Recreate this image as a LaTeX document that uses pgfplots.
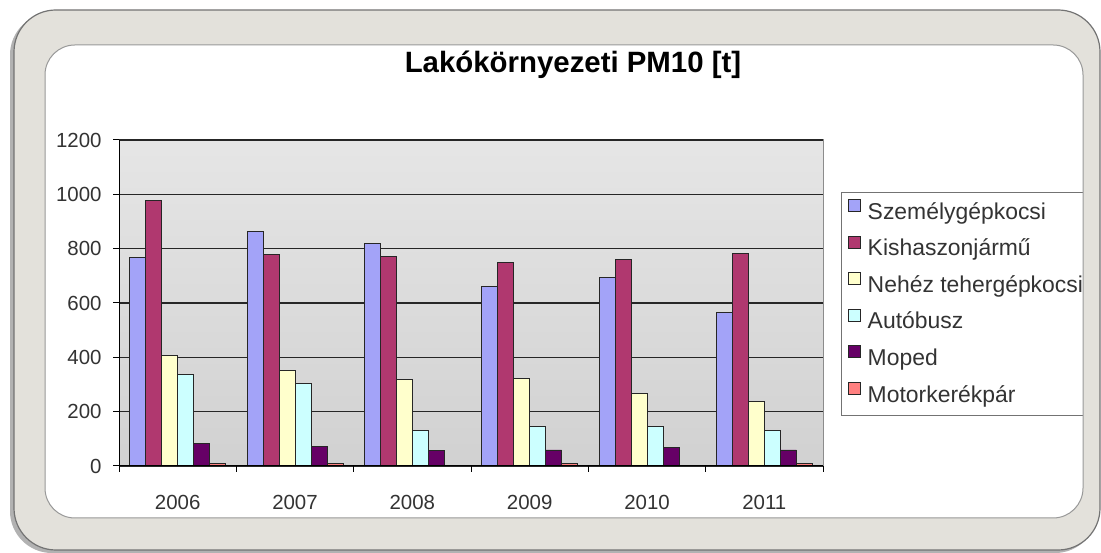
\documentclass[border=0pt]{standalone}
\usepackage{fontspec}
\setmainfont{Liberation Sans}
\usepackage{pgfplots}
\pgfplotsset{compat=1.18}
\definecolor{cA}{HTML}{A3A3F8}
\definecolor{cB}{HTML}{B0386F}
\definecolor{cC}{HTML}{FFFFCC}
\definecolor{cD}{HTML}{CCFFFF}
\definecolor{cE}{HTML}{660066}
\definecolor{cF}{HTML}{FF8080}
\definecolor{framecol}{HTML}{E3E1DB}
\definecolor{txt}{HTML}{333333}
\begin{document}
\begin{tikzpicture}[x=1bp,y=1bp]
\useasboundingbox (0,0) rectangle (1101,553);
% shadow and white inside
\fill[black!30, rounded corners=42] (10,0) rectangle (1097,540);
\fill[white, rounded corners=42] (14,3) rectangle (1100,543);
\node[font=\fontsize{29.5}{32}\selectfont\bfseries, anchor=base, inner sep=0] at (573,480) {Lakókörnyezeti PM10 [t]};
\begin{axis}[
  at={(119bp,87bp)}, anchor=south west,
  scale only axis, width=704bp, height=326bp,
  ybar=0pt, bar width=16bp,
  xmin=-0.5, xmax=5.5, ymin=0, ymax=1200,
  ytick={0,200,...,1200},
  xtick={-0.5,0.5,...,5.5}, xticklabels={2006,2007,2008,2009,2010,2011},
  x tick label as interval,
  axis lines*=left,
  axis line style={-, black, line width=1bp},
  tick align=outside,
  major tick length=6bp,
  tick style={black, line width=1bp},
  ymajorgrids,
  major grid style={black!85, line width=1.3bp},
  axis background/.style={top color=black!10, bottom color=black!18, draw=black!45, line width=1bp},
  tick label style={font=\fontsize{20.5}{24}\selectfont, text=txt},
  yticklabel style={xshift=-8bp},
  xticklabel style={yshift=-20bp},
  /pgf/number format/assume math mode=true,
  /pgf/number format/1000 sep={},
  every axis plot post/.append style={draw=black!85, line width=0.9bp,
    /pgfplots/legend image code/.code={\draw[##1, line width=0.7bp] (0bp,2bp) rectangle (12bp,14bp);}},
  legend cell align=left,
  legend style={at={(1.0256,0.8405)}, anchor=north west, draw=black!55, line width=1bp,
    fill=white, font=\fontsize{23}{26}\selectfont, text=txt,
    nodes={inner sep=2.5bp, text height=16bp, text depth=4bp},
    /tikz/every odd column/.append style={column sep=5bp},
    row sep=9.7bp, inner xsep=6bp, inner ysep=6.5bp},
]
\addplot[fill=cA] coordinates {(0,769) (1,863) (2,818) (3,660) (4,694) (5,565)};
\addplot[fill=cB] coordinates {(0,977) (1,777) (2,770) (3,750) (4,759) (5,783)};
\addplot[fill=cC] coordinates {(0,406) (1,350) (2,317) (3,323) (4,268) (5,239)};
\addplot[fill=cD] coordinates {(0,338) (1,303) (2,130) (3,144) (4,144) (5,130)};
\addplot[fill=cE] coordinates {(0,84) (1,71) (2,58) (3,59) (4,67) (5,59)};
\addplot[fill=cF] coordinates {(0,10) (1,8) (2,3) (3,8) (4,3) (5,8)};
\legend{Személygépkocsi,Kishaszonjármű,Nehéz tehergépkocsi,Autóbusz,Moped,Motorkerékpár}
\draw[black, line width=1.2bp] (rel axis cs:0,0) -- (rel axis cs:1,0);
\end{axis}
% frame ring on top
\path[fill=framecol, even odd rule] [rounded corners=42] (14,3) rectangle (1100,543) [rounded corners=30] (45,35) rectangle (1083,508);
\draw[black!55, line width=1.2bp, rounded corners=42] (14,3) rectangle (1100,543);
\draw[black!40, line width=1bp, rounded corners=30] (45,35) rectangle (1083,508);
\end{tikzpicture}
\end{document}
